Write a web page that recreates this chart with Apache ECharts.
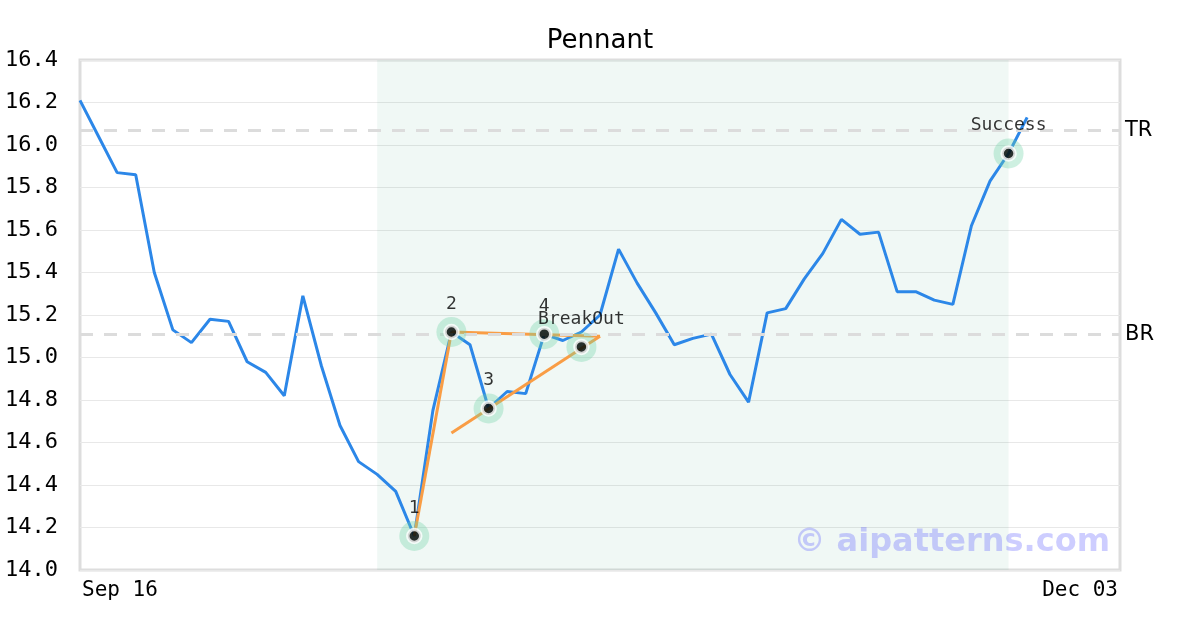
<!DOCTYPE html>
<html>
<head>
<meta charset="utf-8">
<title>Pennant</title>
<script src="https://cdn.jsdelivr.net/npm/echarts@6/dist/echarts.min.js"></script>
<style>
  html, body { margin: 0; padding: 0; background: #ffffff; }
  #chart { width: 1200px; height: 630px; }
</style>
</head>
<body>
<div id="chart"></div>
<script>
// trading days shown on the x axis
var dates = [
  'Sep 16', 'Sep 17', 'Sep 18', 'Sep 19', 'Sep 20', 'Sep 23', 'Sep 24', 'Sep 25', 'Sep 26', 'Sep 27',
  'Sep 30', 'Oct 01', 'Oct 02', 'Oct 03', 'Oct 04', 'Oct 07', 'Oct 08', 'Oct 09', 'Oct 10', 'Oct 11',
  'Oct 14', 'Oct 15', 'Oct 16', 'Oct 17', 'Oct 18', 'Oct 21', 'Oct 22', 'Oct 23', 'Oct 24', 'Oct 25',
  'Oct 28', 'Oct 29', 'Oct 30', 'Oct 31', 'Nov 01', 'Nov 04', 'Nov 05', 'Nov 06', 'Nov 07', 'Nov 08',
  'Nov 11', 'Nov 12', 'Nov 13', 'Nov 14', 'Nov 15', 'Nov 18', 'Nov 19', 'Nov 20', 'Nov 21', 'Nov 22',
  'Nov 25', 'Nov 26', 'Nov 27', 'Nov 28', 'Nov 29', 'Dec 02', 'Dec 03'
];

// closing prices (no data after Nov 26)
var closes = [
  16.21, 16.04, 15.87, 15.86, 15.40, 15.13, 15.07, 15.18, 15.17, 14.98,
  14.93, 14.82, 15.29, 14.96, 14.68, 14.51, 14.45, 14.37, 14.16, 14.75,
  15.12, 15.06, 14.76, 14.84, 14.83, 15.11, 15.08, 15.12, 15.20, 15.51,
  15.35, 15.21, 15.06, 15.09, 15.11, 14.92, 14.79, 15.21, 15.23, 15.37,
  15.49, 15.65, 15.58, 15.59, 15.31, 15.31, 15.27, 15.25, 15.62, 15.83,
  15.96, 16.13
];

var yTicks = { min: 14.0, max: 16.4, step: 0.2 };

// resistance / support levels
var topResistance = 16.07;
var bottomResistance = 15.11;

// pattern window
var patternStart = 'Oct 08';
var patternEnd = 'Nov 25';

// pattern points: [date, price, label]
var patternPoints = [
  ['Oct 10', 14.16, '1'],
  ['Oct 14', 15.12, '2'],
  ['Oct 16', 14.76, '3'],
  ['Oct 21', 15.11, '4'],
  ['Oct 23', 15.05, 'BreakOut'],
  ['Nov 25', 15.96, 'Success']
];

// orange pattern lines
var poleLine = [['Oct 10', 14.16], ['Oct 14', 15.12]];
var upperLine = [['Oct 14', 15.12], ['Oct 24', 15.10]];
var lowerLine = [['Oct 14', 14.645], ['Oct 24', 15.10]];

var mono = '"DejaVu Sans Mono", monospace';
var sans = '"DejaVu Sans", sans-serif';
var orange = '#f99d45';

var chart = echarts.init(document.getElementById('chart'), null, { renderer: 'canvas' });

function orangeSeries(data) {
  return {
    type: 'line',
    data: data,
    symbol: 'none',
    silent: true,
    z: 4,
    lineStyle: { color: orange, width: 3 }
  };
}

var pointData = patternPoints.map(function (p) {
  return { value: [p[0], p[1]], name: p[2] };
});

chart.setOption({
  animation: false,
  backgroundColor: '#ffffff',
  title: {
    text: 'Pennant',
    left: 'center',
    top: 23,
    textStyle: { fontFamily: sans, fontSize: 26, fontWeight: 'normal', color: '#000' }
  },
  grid: {
    left: 80,
    right: 80,
    top: 60,
    bottom: 60,
    show: true,
    borderColor: '#dddddd',
    borderWidth: 3,
    backgroundColor: 'transparent'
  },
  xAxis: {
    type: 'category',
    data: dates,
    boundaryGap: false,
    axisLine: { show: false },
    axisTick: { show: false },
    splitLine: { show: false },
    axisLabel: {
      interval: function (i) { return i === 0 || i === dates.length - 1; },
      alignMinLabel: 'left',
      alignMaxLabel: 'right',
      margin: 10,
      fontFamily: mono,
      fontSize: 21,
      color: '#000',
      padding: [0, 2, 0, 2]
    }
  },
  yAxis: {
    type: 'value',
    min: yTicks.min,
    max: yTicks.max,
    interval: yTicks.step,
    axisLine: { show: false },
    axisTick: { show: false },
    splitLine: { lineStyle: { color: '#e8e8e8', width: 1 } },
    axisLabel: {
      margin: 22,
      fontFamily: mono,
      fontSize: 22,
      color: '#000',
      padding: [4, 0, 0, 0],
      formatter: function (v) { return v.toFixed(1); }
    }
  },
  graphic: [{
    type: 'text',
    right: 90,
    top: 527,
    z: 100,
    style: {
      text: '\u00a9 aipatterns.com',
      fontFamily: sans,
      fontSize: 32,
      fontWeight: 'bold',
      fill: 'rgba(90,90,255,0.3)'
    }
  }],
  series: [
    {
      type: 'line',
      data: closes,
      symbol: 'none',
      z: 3,
      lineStyle: { color: '#2c87e8', width: 3 },
      markArea: {
        silent: true,
        itemStyle: { color: 'rgba(0,130,80,0.06)' },
        data: [[{ xAxis: patternStart }, { xAxis: patternEnd }]]
      },
      markLine: {
        silent: true,
        symbol: 'none',
        lineStyle: { color: '#dcdcdc', width: 3, type: [13, 11] },
        label: {
          position: 'end',
          distance: 5,
          fontFamily: sans,
          fontSize: 21,
          color: '#000',
          padding: [4, 0, 0, 0],
          formatter: '{b}'
        },
        data: [
          { name: 'TR', yAxis: topResistance },
          { name: 'BR', yAxis: bottomResistance }
        ]
      }
    },
    orangeSeries(poleLine),
    orangeSeries(upperLine),
    orangeSeries(lowerLine),
    {
      type: 'scatter',
      data: pointData,
      symbol: 'circle',
      symbolSize: 30,
      z: 5,
      itemStyle: { color: 'rgba(110,210,165,0.42)' },
      label: {
        show: true,
        position: 'top',
        distance: 4,
        formatter: '{b}',
        fontFamily: mono,
        fontSize: 18,
        color: '#000'
      }
    },
    {
      type: 'scatter',
      data: pointData,
      symbol: 'circle',
      symbolSize: 13,
      z: 6,
      itemStyle: { color: '#000', borderColor: '#fff', borderWidth: 3.5 }
    }
  ]
});
</script>
</body>
</html>
